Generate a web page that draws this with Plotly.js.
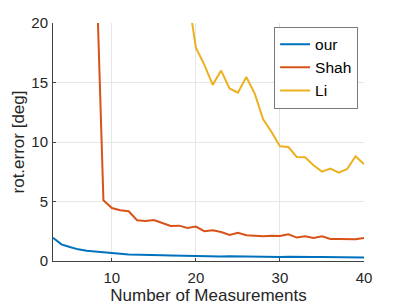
<!DOCTYPE html>
<html>
<head>
<meta charset="utf-8">
<script src="https://cdn.plot.ly/plotly-3.0.1.min.js"></script>
<style>html,body{margin:0;padding:0;background:#fff;}#chart{width:403px;height:307px;}</style>
</head>
<body>
<div id="chart"></div>
<script>
const ourX = [3,4,5,6,7,8,9,10,11,12,13,14,15,16,17,18,19,20,21,22,23,24,25,26,27,28,29,30,31,32,33,34,35,36,37,38,39,40];
const ourY = [1.95,1.40,1.18,0.98,0.86,0.78,0.71,0.68,0.60,0.55,0.52,0.50,0.49,0.48,0.47,0.45,0.44,0.44,0.42,0.40,0.38,0.40,0.38,0.37,0.36,0.35,0.35,0.34,0.35,0.33,0.33,0.33,0.34,0.32,0.30,0.30,0.30,0.30];
const shahX = [8,9,10,11,12,13,14,15,16,17,18,19,20,21,22,23,24,25,26,27,28,29,30,31,32,33,34,35,36,37,38,39,40];
const shahY = [28,5.1,4.45,4.26,4.18,3.42,3.36,3.45,3.19,2.94,2.97,2.77,2.89,2.50,2.58,2.44,2.19,2.38,2.16,2.13,2.08,2.13,2.10,2.24,1.97,2.08,1.94,2.08,1.85,1.85,1.82,1.82,1.94];
const liX = [19,20,21,22,23,24,25,26,27,28,29,30,31,32,33,34,35,36,37,38,39,40];
const liY = [22.6,17.93,16.5,14.8,16.0,14.5,14.15,15.46,14.07,11.9,10.84,9.64,9.58,8.74,8.71,8.04,7.51,7.76,7.43,7.73,8.8,8.13];
const xTicks = [10,20,30,40];
const yTicks = [0,5,10,15,20];

const font = "Liberation Sans, Arial, Helvetica, sans-serif";
const axisColor = "#404040";
const gridColor = "#e6e6e6";

const traces = [
  {x: ourX, y: ourY, name: "our", mode: "lines", line: {color: "#0072BD", width: 2}},
  {x: shahX, y: shahY, name: "Shah", mode: "lines", line: {color: "#D95319", width: 2}},
  {x: liX, y: liY, name: "Li", mode: "lines", line: {color: "#EDB120", width: 2}}
];

const layout = {
  width: 403, height: 307,
  margin: {l: 53, r: 39, t: 23, b: 46},
  paper_bgcolor: "#fff", plot_bgcolor: "#fff",
  font: {family: font, color: "#262626", size: 15},
  showlegend: true,
  legend: {x: 0.711, y: 0.985, xanchor: "left", yanchor: "top",
    bgcolor: "#fff", bordercolor: "#7a7a7a", borderwidth: 1,
    itemwidth: 30,
    font: {family: font, size: 15.5, color: "#000"}},
  xaxis: {range: [3, 40], tickvals: xTicks, ticktext: xTicks.map(String),
    showgrid: true, gridcolor: gridColor, gridwidth: 1, zeroline: false,
    showline: true, linecolor: axisColor, linewidth: 1,
    ticks: "inside", ticklen: 3, tickcolor: axisColor,
    ticklabelstandoff: 3,
    tickfont: {size: 15, color: "#262626"},
    title: {text: "Number of Measurements", font: {size: 17, color: "#262626"}, standoff: 4}},
  yaxis: {range: [0, 20], tickvals: yTicks, ticktext: yTicks.map(String),
    showgrid: true, gridcolor: gridColor, gridwidth: 1, zeroline: false,
    showline: true, linecolor: axisColor, linewidth: 1,
    ticks: "inside", ticklen: 3, tickcolor: axisColor,
    ticklabelstandoff: 1,
    tickfont: {size: 15, color: "#262626"},
    title: {text: "rot.error [deg]", font: {size: 17, color: "#262626"}, standoff: 2}}
};

Plotly.newPlot("chart", traces, layout, {displayModeBar: false, staticPlot: true});
</script>
</body>
</html>
